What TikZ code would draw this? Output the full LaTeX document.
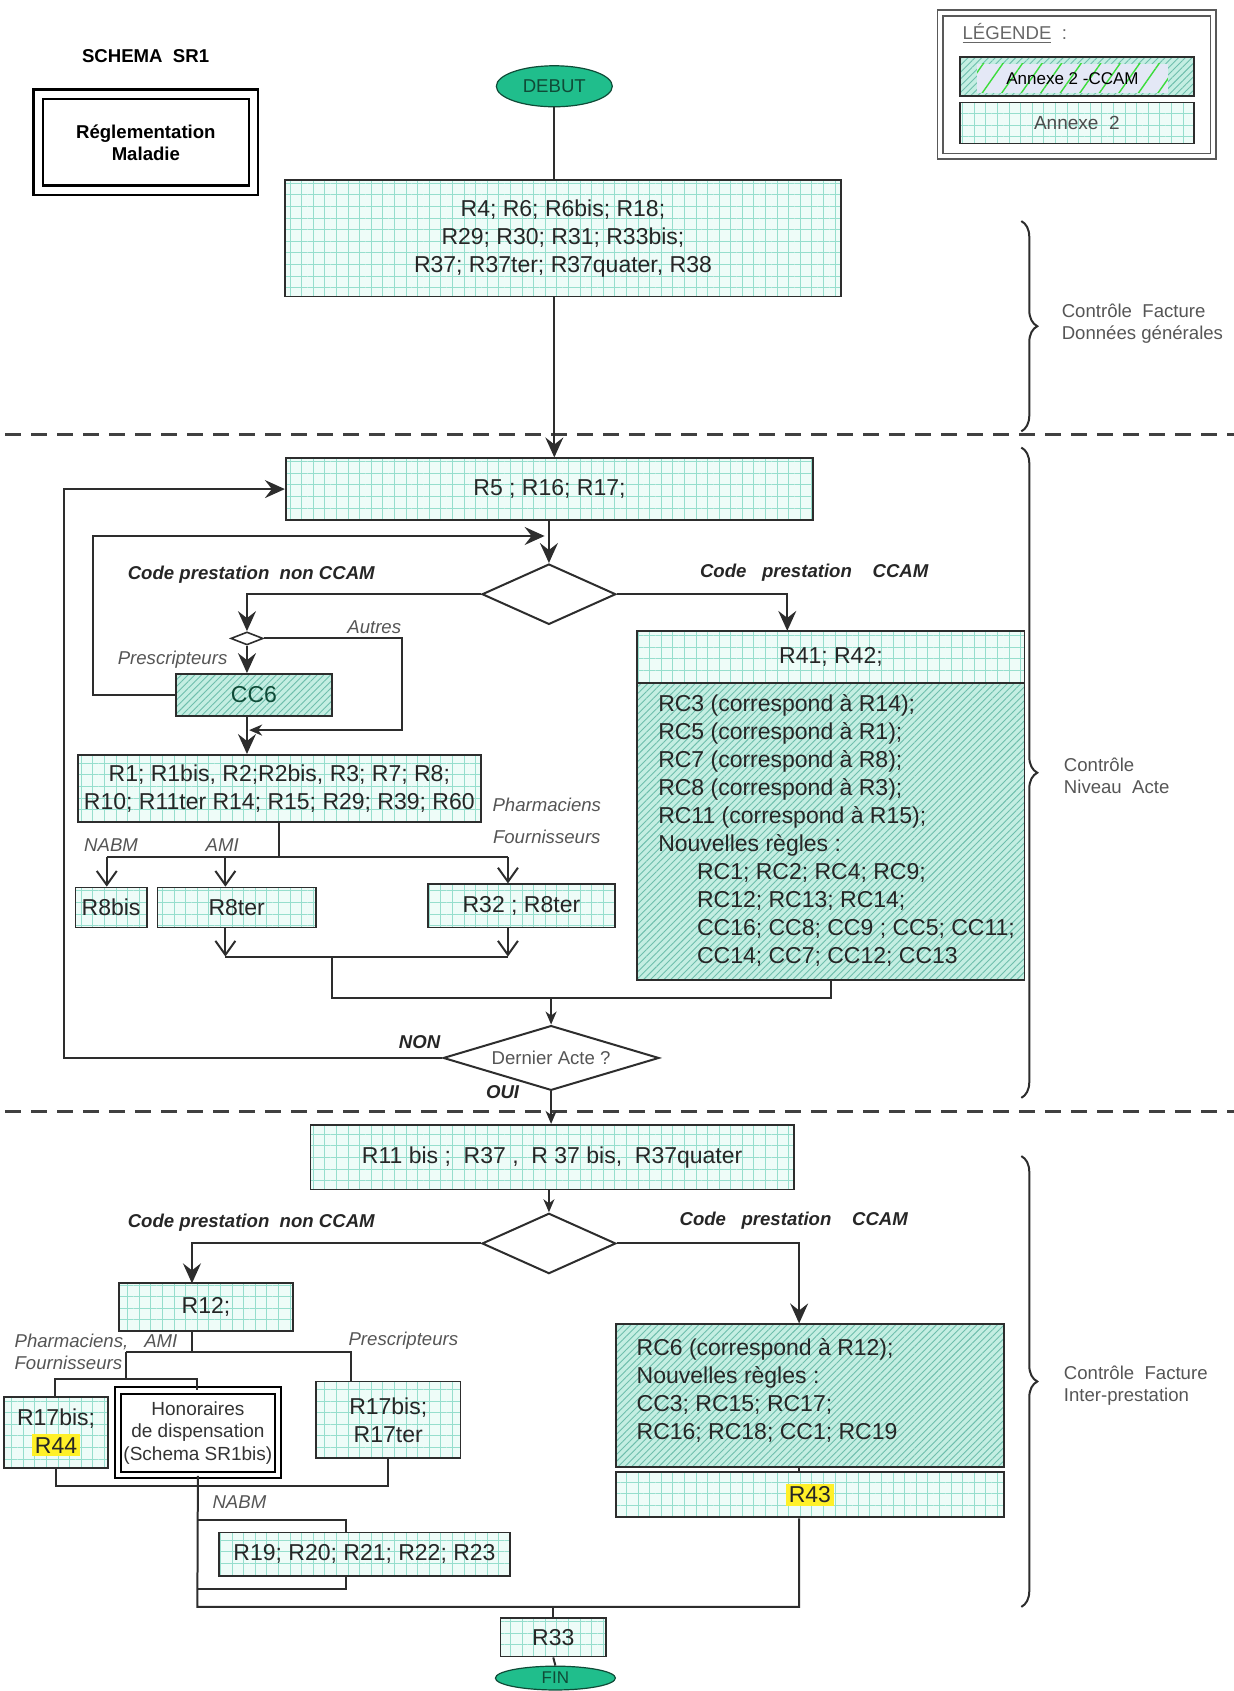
\documentclass[tikz,border=0pt]{standalone}
\usepackage{fontspec}
\setmainfont{Liberation Sans}
\usepackage{tikz}
\usetikzlibrary{arrows.meta,positioning,shapes.geometric,patterns.meta,decorations.pathreplacing}
\definecolor{gridbg}{RGB}{238,252,248}
\definecolor{gridln}{RGB}{150,222,205}
\definecolor{hatchbg}{RGB}{196,238,226}
\definecolor{hatchln}{RGB}{110,190,172}
\definecolor{boxln}{RGB}{45,45,45}
\definecolor{termfill}{RGB}{32,190,140}
\definecolor{termtxt}{RGB}{15,75,55}
\definecolor{labgray}{RGB}{85,85,85}
\definecolor{lavend}{RGB}{228,232,246}
\definecolor{legline}{RGB}{60,220,60}
\definecolor{hilite}{RGB}{255,240,40}
\newcommand{\bigtxt}{\fontsize{11.5}{14}\selectfont}
\newcommand{\lbltxt}{\fontsize{9.3}{11}\selectfont}
\newcommand{\hl}[1]{{\setlength{\fboxsep}{1.5pt}\colorbox{hilite}{#1}}}
\tikzset{
  dims/.style 2 args={minimum width=#1*0.5393pt, minimum height=#2*0.5393pt},
  gridbox/.style ={draw=boxln, line width=0.9pt, inner sep=0pt, font=\bigtxt,
                   text=black!85, align=center, preaction={fill=gridbg},
                   pattern={Hatch[distance=5.8pt, line width=0.4pt]},
                   pattern color=gridln},
  hatchbox/.style={draw=boxln, line width=0.9pt, inner sep=0pt, font=\bigtxt,
                   text=black!85, preaction={fill=hatchbg},
                   pattern={Lines[angle=45, distance=2.4pt, line width=0.45pt]},
                   pattern color=hatchln},
  dblbox/.style  ={draw=black, double, inner sep=0pt, align=center},
  term/.style    ={draw=termtxt, ellipse, fill=termfill, inner sep=0pt,
                   font=\lbltxt, text=termtxt, line width=0.6pt},
  choice/.style  ={draw=boxln, diamond, inner sep=0pt, line width=1pt, fill=white},
  rules/.style   ={anchor=north west, inner sep=0pt, font=\bigtxt, align=left,
                   text=black!85},
  link/.style    ={draw=boxln, line width=1pt},
  flow/.style    ={link, -{Stealth[length=10pt, width=9pt, inset=3.5pt]}},
  flowsm/.style  ={link, -{Stealth[length=6.5pt, width=5.5pt, inset=2pt]}},
  barb/.style    ={link, -{Straight Barb[length=7pt, width=10pt]}},
  brlbl/.style   ={font=\lbltxt\bfseries\itshape, text=black!85},
  case/.style    ={font=\lbltxt\itshape, text=labgray},
  side/.style    ={font=\lbltxt, text=labgray, align=left, anchor=west},
  zone/.style    ={draw=boxln, line width=1pt, decorate,
                   decoration={brace, amplitude=8pt}},
  sepline/.style ={draw=black!75, line width=1.6pt, dash pattern=on 8pt off 5pt},
}

\begin{document}
\begin{tikzpicture}[x=0.5393pt, y=-0.5393pt]
\useasboundingbox (0,0) rectangle (1144,1568);

% header and legend
\node[font=\lbltxt\bfseries] (title) at (135,52) {SCHEMA\ \ SR1};
\node[dblbox, line width=1.3pt, double distance=3.3pt, dims={199.5}{89},
      font=\lbltxt\bfseries] (regl) at (135.25,132) {Réglementation\\Maladie};
\node[dblbox, draw=black!65, line width=0.8pt, double distance=2pt, dims={253}{133}]
  (legend) at (998.5,78.5) {};
\node[side, text=black!60] (legtitle) at (886,31) {\underline{LÉGENDE}\ \ :};
\node[hatchbox, dims={217}{36}] (legccam) at (998.5,71) {};
\node[inner sep=0pt, dims={177}{27}, preaction={fill=lavend},
      pattern={Lines[angle=55, distance=8pt, line width=0.7pt]}, pattern color=legline,
      font=\fontsize{8.5}{10}\selectfont] (legccamtxt) at (994.5,72.5) {Annexe 2 -CCAM};
\node[gridbox, dims={217}{38}, font=\fontsize{9.5}{11}\selectfont, text=black!70]
  (legann) at (998.5,114) {Annexe\ \ 2};

% separators and zones
\draw[sepline] (5,403) -- (1144,403);
\draw[sepline] (5,1031) -- (1144,1031);
\draw[zone] (947,205) -- (947,400);
\node[side] (zone1) at (978,300) {Contrôle\ \ Facture\\Données générales};
\draw[zone] (947,415) -- (947,1018);
\node[side] (zone2) at (980,719) {Contrôle\\Niveau\ \ Acte};
\draw[zone] (947,1072) -- (947,1490);
\node[side] (zone3) at (980,1285) {Contrôle\ \ Facture\\Inter-prestation};

% invoice level
\node[term, minimum width=58pt, minimum height=20.5pt] (debut) at (514,80) {DEBUT};
\node[gridbox, dims={516}{108}] (gen) at (522,221)
  {R4; R6; R6bis; R18;\\R29; R30; R31; R33bis;\\R37; R37ter; R37quater, R38};

% act level
\node[gridbox, dims={489}{57}] (r5) at (509.5,453.5) {R5 ; R16; R17;};
\node[choice, minimum width=66.9pt, minimum height=30.2pt] (d1) at (509,551) {};
\node[choice, minimum width=16.2pt, minimum height=6.5pt, line width=0.8pt]
  (sd) at (229,592) {};
\node[hatchbox, dims={145}{39}, text=termtxt] (cc6) at (235.5,644.5) {CC6};
\node[gridbox, dims={374}{62}] (r1) at (259,731)
  {R1; R1bis, R2;R2bis, R3; R7; R8;\\R10; R11ter R14; R15; R29; R39; R60};
\node[gridbox, dims={66}{37}] (r8bis) at (103,841.5) {R8bis};
\node[gridbox, dims={147}{37}] (r8ter) at (219.5,841.5) {R8ter};
\node[gridbox, dims={173}{40}] (r32) at (483.5,840) {R32 ; R8ter};
\node[gridbox, dims={359}{48}] (r41) at (770.5,609) {R41; R42;};
\node[hatchbox, dims={359}{276}] (rc) at (770.5,771) {};
\node[rules] (rctxt) at (610,644)
  {RC3 (correspond à R14);\\RC5 (correspond à R1);\\RC7 (correspond à R8);\\
   RC8 (correspond à R3);\\RC11 (correspond à R15);\\Nouvelles règles :\\
   \hspace*{19.4pt}RC1; RC2; RC4; RC9;\\\hspace*{19.4pt}RC12; RC13; RC14;\\
   \hspace*{19.4pt}CC16; CC8; CC9 ; CC5; CC11;\\\hspace*{19.4pt}CC14; CC7; CC12; CC13};
\node[choice, aspect=3.3, minimum width=107.9pt, minimum height=32.4pt,
      font=\lbltxt, text=labgray] (dern) at (511,981) {Dernier Acte ?};

% inter-prestation level
\node[gridbox, dims={448}{60}] (r11) at (512,1073)
  {R11 bis ;\ \ R37 ,\ \ R 37 bis,\ \ R37quater};
\node[choice, minimum width=66.9pt, minimum height=30.2pt] (d3) at (509,1153) {};
\node[gridbox, dims={162}{44}] (r12) at (191,1212) {R12;};
\node[gridbox, dims={96}{66}] (r44) at (52,1328) {R17bis;\\\hl{R44}};
\node[dblbox, line width=1pt, double distance=2.2pt, dims={148}{78},
      font=\fontsize{9.5}{11.3}\selectfont, text=black!80] (hono) at (183.5,1328.5)
  {Honoraires\\de dispensation\\(Schema SR1bis)};
\node[gridbox, dims={134}{71}] (r17) at (360,1316.5) {R17bis;\\R17ter};
\coordinate (nb1) at (183,1409);
\coordinate (nb2) at (321,1473);
\draw[link] (nb1) -| (nb2) -- (nb2 -| nb1);
\node[gridbox, dims={270}{40}] (r19) at (338,1441) {R19; R20; R21; R22; R23};
\node[hatchbox, dims={360}{132}] (rc6) at (751,1294) {};
\node[rules] (rc6txt) at (590,1241)
  {RC6 (correspond à R12);\\Nouvelles règles :\\CC3; RC15; RC17;\\RC16; RC18; CC1; RC19};
\node[gridbox, dims={360}{42}] (r43) at (751,1386) {\hl{R43}};
\node[gridbox, dims={98}{36}] (r33) at (513,1518) {R33};
\node[term, minimum width=60pt, minimum height=11.9pt,
      font=\fontsize{8.5}{10}\selectfont] (fin) at (515,1556) {FIN};

% connectors, top part
\draw[link] (debut.south) -- (debut.south |- gen.north);
\draw[flow] (debut.south |- gen.south) -- (debut.south |- r5.north);
\draw[flow] (d1.north |- r5.south) -- (d1.north);
\coordinate (lp) at (86,497);
\coordinate (lpend) at (505,497);
\draw[flow] (cc6.west) -| (lp) -- (lpend);
\draw[flow] (d1.west) -| (sd.north);
\draw[flow] (sd.south) -- (sd.south |- cc6.north);
\coordinate (au) at (373,677);
\coordinate (auend) at (231,677);
\draw[flowsm] (sd.east) -| (au) -- (auend);
\draw[flow] (sd.south |- cc6.south) -- (sd.south |- r1.north);
\coordinate (c41) at (730,585);
\draw[flow] (d1.east) -| (c41);

% fork below R1
\coordinate (fork) at (259,795);
\coordinate (lnab) at (99,795);
\coordinate (lami) at (209,795);
\coordinate (lpha) at (471,795);
\draw[link] (r1.south) -- (fork);
\draw[link] (lnab) -- (lpha);
\draw[barb] (lnab) -- (lnab |- r8bis.north);
\draw[barb] (lami) -- (lami |- r8ter.north);
\draw[barb] (lpha) -- (lpha |- r32.north);
\coordinate (jn) at (308,887);
\coordinate (jd) at (308,925);
\draw[barb] (lami |- r8ter.south) -- (lami |- jn);
\draw[barb] (lpha |- r32.south) -- (lpha |- jn);
\draw[link] (lami |- jn) -- (lpha |- jn);
\draw[link] (jn) -- (jd) -| (rc.south);
\draw[flowsm] (dern.north |- jd) -- (dern.north);
\draw[flow] (dern.west) -- ++(-351,0) |- (r5.west);

% connectors, bottom part
\draw[flowsm] (dern.south) -- (dern.south |- r11.north);
\draw[flowsm] (d3.north |- r11.south) -- (d3.north);
\coordinate (c12) at (178,1190);
\draw[flow] (d3.west) -| (c12);
\coordinate (tl) at (117,1254);
\coordinate (tr) at (325,1254);
\coordinate (ul) at (51,1279);
\coordinate (ur) at (183,1279);
\draw[link] (c12 |- r12.south) -- (c12 |- tl);
\draw[link] (tl) -- (tr) -- (tr |- r17.north);
\draw[link] (tl) -- (tl |- ul);
\draw[link] (ul |- r44.north) |- (ur) -- (ur |- hono.north);
\coordinate (bj) at (51,1378);
\draw[link] (r44.south) |- (r17.south |- bj) -- (r17.south);
\coordinate (fl) at (183,1490);
\coordinate (rx) at (741,1490);
\draw[flow] (d3.east) -| (rx |- rc6.north);
\draw[link] (rx |- rc6.south) -- (rx |- r43.north);
\draw[link] (hono.south) -- (fl) -- (rx) -- (rx |- r43.south);
\draw[link] (r33.north |- fl) -- (r33.north);
\draw[link] (r33.south) -- (fin.north);

% labels
\node[brlbl] (cpnon1) at (233,533) {Code prestation\ \ non CCAM};
\node[brlbl] (cpccam1) at (755,531) {Code\ \ \ prestation\ \ \ \ CCAM};
\node[case] (presc1) at (160,612) {Prescripteurs};
\node[case] (autres) at (347,582) {Autres};
\node[case] (pharm1) at (507,746) {Pharmaciens};
\node[case] (fourn1) at (507,776) {Fournisseurs};
\node[case] (nabm1) at (103,784) {NABM};
\node[case] (ami1) at (206,784) {AMI};
\node[brlbl] (non) at (389,966) {NON};
\node[brlbl] (oui) at (466,1013) {OUI};
\node[brlbl] (cpnon2) at (233,1134) {Code prestation\ \ non CCAM};
\node[brlbl] (cpccam2) at (736,1132) {Code\ \ \ prestation\ \ \ \ CCAM};
\node[case, anchor=west] (pharm2) at (7,1244) {Pharmaciens,\hspace{8pt}AMI};
\node[case, anchor=west] (fourn2) at (7,1264) {Fournisseurs};
\node[case] (presc2) at (374,1243) {Prescripteurs};
\node[case] (nabm2) at (222,1393) {NABM};
\end{tikzpicture}
\end{document}
